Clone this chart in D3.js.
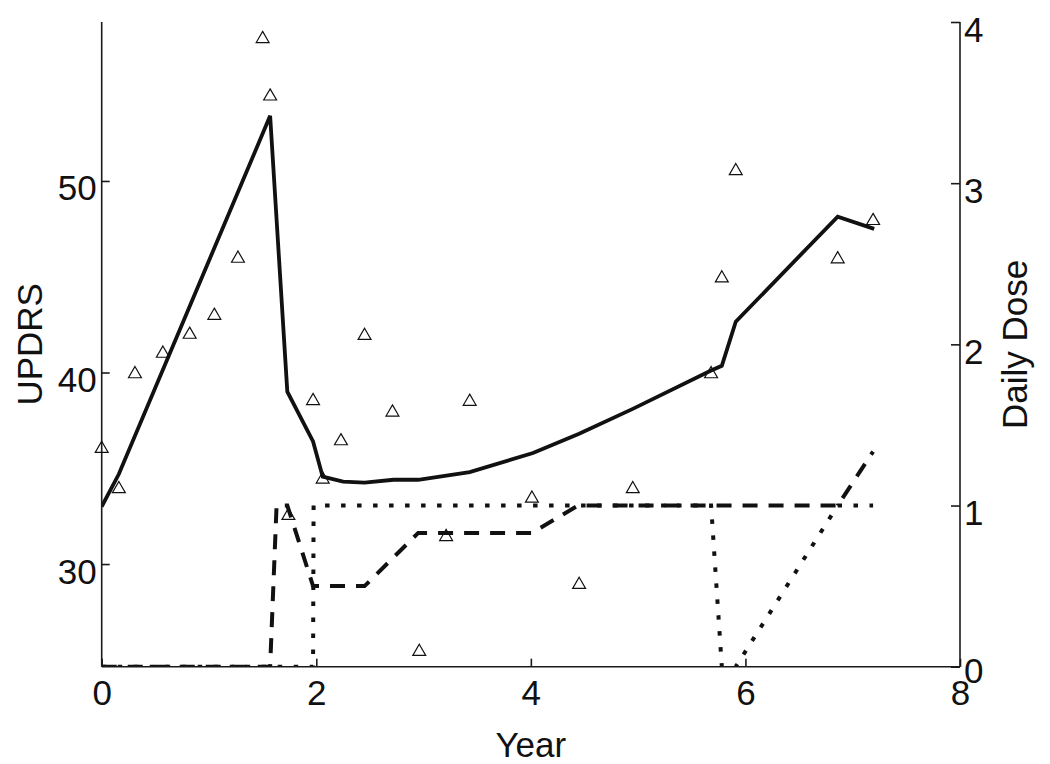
<!DOCTYPE html>
<html>
<head>
<meta charset="utf-8">
<script src="https://cdn.jsdelivr.net/npm/d3@7"></script>
<style>
  html, body { margin: 0; padding: 0; background: #fff; }
  svg { display: block; }
  text { font-family: "Liberation Sans", Arial, Helvetica, sans-serif; fill: #111; }
</style>
</head>
<body>
<svg id="chart" width="1050" height="764"></svg>
<script>
// ---- data ----
const observedYear = [0, 0.16, 0.31, 0.57, 0.82, 1.05, 1.27, 1.50, 1.57, 1.74, 1.97, 2.06, 2.23, 2.45, 2.71, 2.96, 3.21, 3.43, 4.01, 4.45, 4.95, 5.68, 5.78, 5.91, 6.86, 7.19];
const observedUPDRS = [36.1, 34.0, 40.0, 41.07, 42.06, 43.05, 46.03, 57.5, 54.5, 32.6, 38.6, 34.5, 36.5, 42.0, 38.0, 25.5, 31.5, 38.56, 33.5, 29.0, 34.0, 40.0, 45.0, 50.6, 46.0, 48.0];

const fitYear  = [0, 0.16, 1.57, 1.73, 1.97, 2.06, 2.25, 2.45, 2.72, 2.95, 3.43, 4.02, 4.45, 4.95, 5.68, 5.78, 5.91, 6.86, 7.2];
const fitUPDRS = [33.0, 34.7, 53.4, 39.0, 36.4, 34.56, 34.3, 34.25, 34.4, 34.4, 34.8, 35.8, 36.8, 38.1, 40.1, 40.35, 42.65, 48.14, 47.5];

const doseAYear = [0, 1.57, 1.63, 1.73, 1.97, 2.45, 2.95, 4.01, 4.44, 6.86, 7.19];
const doseA     = [0, 0, 1, 1, 0.5, 0.5, 0.83, 0.83, 1, 1, 1.335];

const doseBYear = [0, 1.97, 1.975, 5.68, 5.78, 5.91, 6.86, 7.19];
const doseB     = [0, 0, 1, 1, 0, 0, 1, 1];

const xTicks = [0, 2, 4, 6, 8];
const leftTicks = [30, 40, 50];
const rightTicks = [0, 1, 2, 3, 4];
const xLabel = "Year", leftLabel = "UPDRS", rightLabel = "Daily Dose";

// ---- layout ----
const svg = d3.select("#chart");
const L = 101.7, R = 960, T = 22, B = 666.7;
const x = d3.scaleLinear().domain([0, 8]).range([L, R]);
const yL = d3.scaleLinear().domain([24.64, 58.3]).range([B, T]);
const yR = d3.scaleLinear().domain([0, 4]).range([B, T]);
const FS = 35;

svg.append("defs").append("clipPath").attr("id", "plotclip")
  .append("rect").attr("x", L).attr("y", 0).attr("width", R - L).attr("height", B - 0.6);

// lines
const lineL = d3.line().x(d => x(d[0])).y(d => yL(d[1]));
const lineR = d3.line().x(d => x(d[0])).y(d => yR(d[1]));
const plot = svg.append("g").attr("clip-path", "url(#plotclip)");

plot.append("path").datum(doseBYear.map((t, i) => [t, doseB[i]]))
  .attr("d", lineR).attr("fill", "none").attr("stroke", "#111").attr("stroke-width", 4)
  .attr("stroke-dasharray", "4.5,11.5");
plot.append("path").datum(doseAYear.map((t, i) => [t, doseA[i]]))
  .attr("d", lineR).attr("fill", "none").attr("stroke", "#111").attr("stroke-width", 4)
  .attr("stroke-dasharray", "15,11");
plot.append("path").datum(fitYear.map((t, i) => [t, fitUPDRS[i]]))
  .attr("d", lineL).attr("fill", "none").attr("stroke", "#111").attr("stroke-width", 3.8)
  .attr("stroke-linejoin", "miter");

// axes
const axisColor = "#1a1a1a";
const gx = svg.append("g").attr("transform", `translate(0,${B})`)
  .call(d3.axisBottom(x).tickValues(xTicks).tickSize(-8).tickSizeOuter(0).tickFormat(d3.format("d")));
const gl = svg.append("g").attr("transform", `translate(${L},0)`)
  .call(d3.axisLeft(yL).tickValues(leftTicks).tickSize(-8).tickSizeOuter(0).tickFormat(d3.format("d")));
const gr = svg.append("g").attr("transform", `translate(${R},0)`)
  .call(d3.axisRight(yR).tickValues(rightTicks).tickSize(-9).tickSizeOuter(0).tickFormat(d3.format("d")));

[gx, gl, gr].forEach(g => {
  g.select(".domain").attr("stroke", axisColor).attr("stroke-width", 1.6);
  g.selectAll(".tick line").attr("stroke", axisColor).attr("stroke-width", 1.6);
  g.selectAll(".tick text").style("font-size", FS + "px")
    .style("font-family", '"Liberation Sans", Arial, sans-serif').attr("fill", "#111");
});
gx.selectAll(".tick text").attr("y", 38).attr("dy", 0);
gl.selectAll(".tick text").attr("x", -5).attr("dy", 0).attr("y", 19).attr("text-anchor", "end");
gr.selectAll(".tick text").attr("x", 4).attr("dy", 0).attr("y", d => d === 0 ? 16 : 19).attr("text-anchor", "start");
gl.select(".domain").attr("d", `M0,${B}V${T}`);
gr.select(".domain").attr("d", `M0,${B}V${T}`);
gx.select(".domain").attr("d", `M${L},0H${R}`);

// labels
svg.append("text").attr("x", (L + R) / 2).attr("y", 756.5).attr("text-anchor", "middle")
  .style("font-size", FS + "px").text(xLabel);
svg.append("text").attr("transform", `translate(41.5,${(T + B) / 2}) rotate(-90)`).attr("text-anchor", "middle")
  .style("font-size", FS + "px").text(leftLabel);
svg.append("text").attr("transform", `translate(1027,${(T + B) / 2}) rotate(-90)`).attr("text-anchor", "middle")
  .style("font-size", FS + "px").text(rightLabel);

// triangles
const tri = d3.symbol().type(d3.symbolTriangle).size(72);
svg.append("g").selectAll("path").data(observedYear.map((t, i) => [t, observedUPDRS[i]]))
  .join("path")
  .attr("transform", d => `translate(${x(d[0])},${yL(d[1]) + 1.5})`)
  .attr("d", tri).attr("fill", "none").attr("stroke", "#111").attr("stroke-width", 1.2);
</script>
</body>
</html>
